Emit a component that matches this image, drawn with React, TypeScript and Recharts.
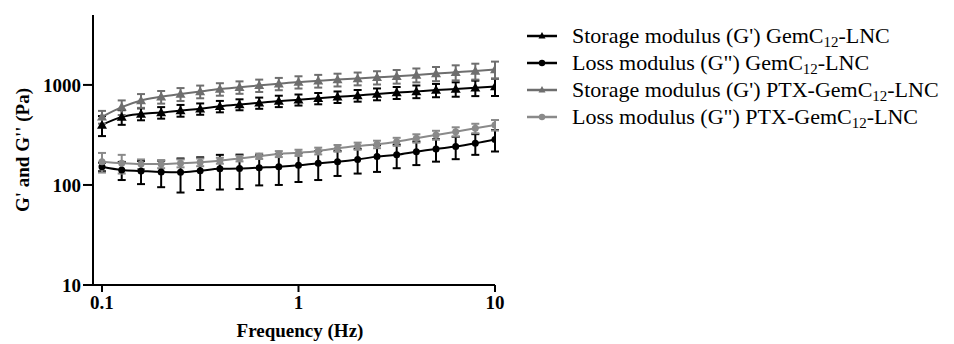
import React from 'react';
import { LineChart, Line, XAxis, YAxis, ErrorBar, Legend, Label } from 'recharts';

const FREQ = [0.1, 0.126, 0.158, 0.2, 0.251, 0.316, 0.398, 0.501, 0.631, 0.794, 1, 1.26, 1.58, 2, 2.51, 3.16, 3.98, 5.01, 6.31, 7.94, 10];

const GP_GEMC = [398, 479, 513, 530, 556, 578, 612, 638, 662, 690, 712, 735, 760, 785, 812, 838, 862, 888, 912, 938, 965];
const GP_GEMC_SD = [90, 80, 70, 70, 75, 75, 80, 80, 85, 90, 90, 95, 100, 105, 110, 115, 125, 135, 150, 165, 190];

const GPP_GEMC = [152, 141, 138, 135, 134, 139, 145, 146, 149, 152, 157, 165, 171, 180, 192, 200, 215, 229, 242, 261, 285];
const GPP_GEMC_SD = [15, 29, 36, 40, 50, 50, 55, 55, 50, 52, 50, 53, 48, 50, 57, 53, 57, 58, 61, 61, 69];

const GP_PTX = [480, 600, 700, 760, 810, 860, 910, 950, 990, 1030, 1070, 1100, 1130, 1160, 1190, 1220, 1260, 1300, 1340, 1380, 1430];
const GP_PTX_SD = [70, 100, 110, 110, 120, 125, 130, 135, 140, 145, 150, 160, 165, 170, 180, 190, 200, 210, 230, 250, 280];

const GPP_PTX = [171, 165, 162, 162, 165, 169, 175, 184, 194, 204, 210, 219, 233, 245, 255, 271, 293, 316, 341, 369, 398];
const GPP_PTX_SD = [38, 35, 18, 15, 15, 15, 12, 12, 12, 14, 15, 17, 18, 20, 22, 25, 28, 32, 36, 40, 48];

const X_TICKS = [0.1, 1, 10];
const Y_TICKS = [10, 100, 1000];

const LEGEND_ITEMS = [
  { pre: "Storage modulus (G') GemC", sub: '12', post: '-LNC', color: '#000000', shape: 'triangle' },
  { pre: 'Loss modulus (G") GemC', sub: '12', post: '-LNC', color: '#000000', shape: 'circle' },
  { pre: "Storage modulus (G') PTX-GemC", sub: '12', post: '-LNC', color: '#6e6e6e', shape: 'triangle' },
  { pre: 'Loss modulus (G") PTX-GemC', sub: '12', post: '-LNC', color: '#8a8a8a', shape: 'circle' },
];

const data = FREQ.map((f, i) => ({
  f,
  gpG: GP_GEMC[i],
  gpGsd: GP_GEMC_SD[i],
  gppG: GPP_GEMC[i],
  gppGsd: GPP_GEMC_SD[i],
  gpP: GP_PTX[i],
  gpPsd: GP_PTX_SD[i],
  gppP: GPP_PTX[i],
  gppPsd: GPP_PTX_SD[i],
}));

const FONT = '"Liberation Serif", "Times New Roman", serif';
const BLACK = '#000000';
const GRAY_T = '#6e6e6e';
const GRAY_C = '#8a8a8a';

const triangleDot = (color: string) => (props: any) => {
  const { cx, cy, index } = props;
  if (cx == null || cy == null) return <g key={`t${index}`} />;
  const s = 5;
  return (
    <path
      key={`t${index}`}
      d={`M${cx},${cy - s} L${cx + s},${cy + s * 0.75} L${cx - s},${cy + s * 0.75} Z`}
      fill={color}
    />
  );
};

const tickStyle = { fontFamily: FONT, fontSize: 19, fontWeight: 'bold', fill: '#000' };

const LegendContent = () => (
  <div style={{ fontFamily: FONT, fontSize: 22, color: '#000' }}>
    {LEGEND_ITEMS.map((it, i) => (
      <div key={i} style={{ display: 'flex', alignItems: 'center', height: 27, whiteSpace: 'nowrap' }}>
        <svg width={30} height={12} style={{ flex: 'none' }}>
          <line x1={0} y1={6} x2={30} y2={6} stroke={it.color} strokeWidth={2.5} />
          {it.shape === 'triangle' ? (
            <path d="M15,2 L18.5,8.5 L11.5,8.5 Z" fill={it.color} />
          ) : (
            <circle cx={15} cy={6} r={3.2} fill={it.color} />
          )}
        </svg>
        <span style={{ marginLeft: 15, lineHeight: '24px' }}>
          {it.pre}
          <sub style={{ fontSize: '0.68em', verticalAlign: '-0.3em', lineHeight: 0 }}>{it.sub}</sub>
          {it.post}
        </span>
      </div>
    ))}
  </div>
);

export default function App() {
  return (
    <div style={{ position: 'absolute', left: 0, top: 0, width: 954, height: 344, background: '#fff' }}>
      <LineChart width={954} height={344} data={data} margin={{ top: 15, right: 459, bottom: 0, left: 0 }}>
        <XAxis
          dataKey="f"
          type="number"
          scale="log"
          domain={[0.09, 10]}
          ticks={X_TICKS}
          tickFormatter={(v: number) => String(v)}
          allowDataOverflow
          height={59}
          stroke="#000"
          strokeWidth={2}
          tickSize={7}
          tickMargin={4}
          tick={tickStyle}
          tickLine={{ stroke: '#000', strokeWidth: 2 }}
        >
          <Label
            value="Frequency (Hz)"
            position="center"
            dx={6}
            dy={16}
            style={{ fontFamily: FONT, fontSize: 19, fontWeight: 'bold', fill: '#000' }}
          />
        </XAxis>
        <YAxis
          type="number"
          scale="log"
          domain={[10, 5000]}
          ticks={Y_TICKS}
          allowDataOverflow
          width={93}
          stroke="#000"
          strokeWidth={2}
          tickSize={10}
          tickMargin={2}
          tick={tickStyle}
          tickLine={{ stroke: '#000', strokeWidth: 2 }}
        >
          <Label
            value={"G' and G'' (Pa)"}
            angle={-90}
            position="center"
            dx={-24}
            style={{ fontFamily: FONT, fontSize: 19, fontWeight: 'bold', fill: '#000' }}
          />
        </YAxis>
        <Legend
          layout="horizontal"
          verticalAlign="middle"
          align="center"
          content={LegendContent}
          wrapperStyle={{ left: 527, top: 22, width: 427, height: 110 }}
        />
        <Line
          dataKey="gpG"
          type="monotone"
          stroke={BLACK}
          strokeWidth={2}
          dot={triangleDot(BLACK)}
          activeDot={false}
          isAnimationActive={false}
        >
          <ErrorBar dataKey="gpGsd" width={4} strokeWidth={2} stroke={BLACK} direction="y" />
        </Line>
        <Line
          dataKey="gppG"
          type="monotone"
          stroke={BLACK}
          strokeWidth={2}
          dot={{ r: 3.5, fill: BLACK, stroke: BLACK, strokeWidth: 0 }}
          activeDot={false}
          isAnimationActive={false}
        >
          <ErrorBar dataKey="gppGsd" width={4} strokeWidth={2} stroke={BLACK} direction="y" />
        </Line>
        <Line
          dataKey="gpP"
          type="monotone"
          stroke={GRAY_T}
          strokeWidth={2}
          dot={triangleDot(GRAY_T)}
          activeDot={false}
          isAnimationActive={false}
        >
          <ErrorBar dataKey="gpPsd" width={4} strokeWidth={2} stroke={GRAY_T} direction="y" />
        </Line>
        <Line
          dataKey="gppP"
          type="monotone"
          stroke={GRAY_C}
          strokeWidth={2}
          dot={{ r: 3.5, fill: GRAY_C, stroke: GRAY_C, strokeWidth: 0 }}
          activeDot={false}
          isAnimationActive={false}
        >
          <ErrorBar dataKey="gppPsd" width={4} strokeWidth={2} stroke={GRAY_C} direction="y" />
        </Line>
      </LineChart>
    </div>
  );
}
